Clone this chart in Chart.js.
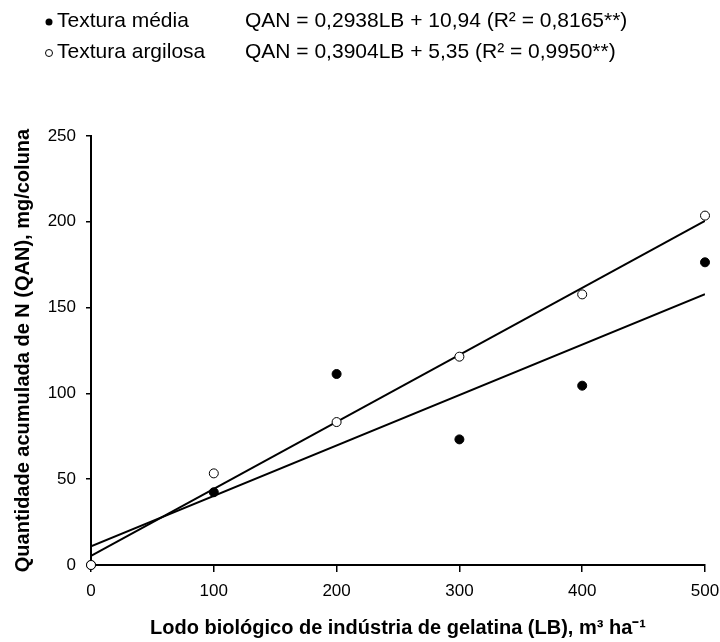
<!DOCTYPE html>
<html>
<head>
<meta charset="utf-8">
<script src="https://cdn.jsdelivr.net/npm/chart.js@4.4.1/dist/chart.umd.min.js"></script>
<style>
  html, body { margin: 0; padding: 0; background: #fff; }
  canvas { display: block; }
</style>
</head>
<body>
<canvas id="qanChart" width="720" height="642"></canvas>
<script>
const doses = [0, 100, 200, 300, 400, 500];
const texturaMedia = [0, 42.4, 111.3, 73.2, 104.5, 176.4];
const texturaArgilosa = [0, 53.4, 83.3, 121.4, 157.7, 203.6];

// regression coefficients from the legend: [slope, intercept]
const regMedia = [0.2938, 10.94];
const regArgilosa = [0.3904, 5.35];

const xTicks = [0, 100, 200, 300, 400, 500];
const yTicks = [0, 50, 100, 150, 200, 250];

const legendRows = [
  { label: "Textura média", eq: "QAN = 0,2938LB + 10,94 (R² = 0,8165**)", filled: true },
  { label: "Textura argilosa", eq: "QAN = 0,3904LB + 5,35 (R² = 0,9950**)", filled: false },
];

const FONT = '"Liberation Sans", Arial, Helvetica, sans-serif';

const toPoints = (ys) => doses.map((x, i) => ({ x: x, y: ys[i] }));
const regLine = (c) => [
  { x: doses[0], y: c[0] * doses[0] + c[1] },
  { x: doses[doses.length - 1], y: c[0] * doses[doses.length - 1] + c[1] },
];

// legend with equations above the plot
const equationLegend = {
  id: "equationLegend",
  afterDraw(chart) {
    const ctx = chart.ctx;
    ctx.save();
    ctx.font = "21px " + FONT;
    ctx.fillStyle = "#000";
    ctx.strokeStyle = "#000";
    ctx.textBaseline = "middle";
    legendRows.forEach((row, i) => {
      const y = 21 + i * 31;
      ctx.beginPath();
      ctx.arc(49, y + 1, 3.5, 0, Math.PI * 2);
      if (row.filled) {
        ctx.fill();
      } else {
        ctx.lineWidth = 1;
        ctx.stroke();
      }
      ctx.fillText(row.label, 57, y);
      ctx.fillText(row.eq, 245, y);
    });
    ctx.restore();
  },
};

new Chart(document.getElementById("qanChart"), {
  type: "scatter",
  data: {
    datasets: [
      {
        label: "Textura argilosa",
        data: toPoints(texturaArgilosa),
        pointRadius: 4.5,
        pointBackgroundColor: "#fff",
        pointBorderColor: "#000",
        pointBorderWidth: 1,
        clip: false,
        order: 1,
      },
      {
        label: "Textura média",
        data: toPoints(texturaMedia),
        pointRadius: 4.5,
        pointBackgroundColor: "#000",
        pointBorderColor: "#000",
        pointBorderWidth: 1,
        clip: false,
        order: 2,
      },
      {
        type: "line",
        data: regLine(regArgilosa),
        borderColor: "#000",
        borderWidth: 2,
        pointRadius: 0,
        fill: false,
        order: 3,
      },
      {
        type: "line",
        data: regLine(regMedia),
        borderColor: "#000",
        borderWidth: 2,
        pointRadius: 0,
        fill: false,
        order: 3,
      },
    ],
  },
  options: {
    responsive: false,
    animation: false,
    devicePixelRatio: 1,
    layout: {
      padding: { top: 136, right: 15, left: 0, bottom: 0 },
    },
    plugins: {
      legend: { display: false },
      tooltip: { enabled: false },
    },
    scales: {
      x: {
        type: "linear",
        min: 0,
        max: 500,
        afterBuildTicks: (scale) => {
          scale.ticks = xTicks.map((v) => ({ value: v }));
        },
        afterFit: (scale) => {
          scale.height = 77;
          scale.paddingLeft = 0;
          scale.paddingRight = 0;
        },
        border: { display: true, color: "#000", width: 2 },
        grid: {
          drawOnChartArea: false,
          drawTicks: true,
          tickLength: 7,
          color: "#000",
          lineWidth: 1.5,
        },
        ticks: {
          color: "#000",
          padding: 9,
          font: { family: FONT, size: 17 },
        },
        title: {
          display: true,
          text: "Lodo biológico de indústria de gelatina (LB), m³ ha⁻¹",
          color: "#000",
          font: { family: FONT, size: 20, weight: "bold" },
          padding: { top: 0, bottom: 2 },
        },
      },
      y: {
        type: "linear",
        min: 0,
        max: 250,
        afterBuildTicks: (scale) => {
          scale.ticks = yTicks.map((v) => ({ value: v }));
        },
        afterFit: (scale) => {
          scale.width = 91;
        },
        border: { display: true, color: "#000", width: 2 },
        grid: {
          drawOnChartArea: false,
          drawTicks: true,
          tickLength: 5,
          color: "#000",
          lineWidth: 1.5,
        },
        ticks: {
          color: "#000",
          padding: 10,
          font: { family: FONT, size: 17 },
        },
        title: {
          display: true,
          text: "Quantidade acumulada de N (QAN), mg/coluna",
          color: "#000",
          font: { family: FONT, size: 20, weight: "bold" },
          padding: { top: 11, bottom: 0 },
        },
      },
    },
  },
  plugins: [equationLegend],
});
</script>
</body>
</html>
